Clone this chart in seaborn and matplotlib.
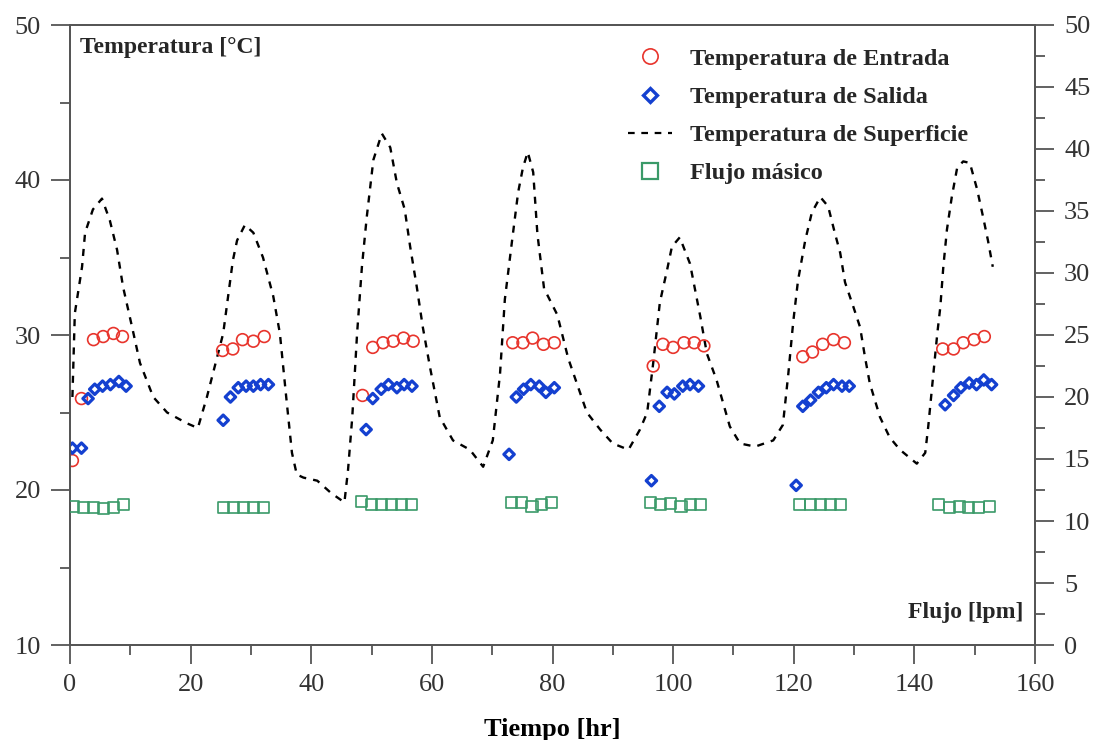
import matplotlib
matplotlib.use("Agg")
import matplotlib.pyplot as plt
import seaborn as sns
from matplotlib.lines import Line2D
from matplotlib.ticker import MultipleLocator

# ---------------- data ----------------
surf_time = [0.4, 0.8, 2.0, 2.5, 3.8, 5.3, 6.6, 7.8, 8.8, 10.3, 11.6, 13.8, 16.1, 19.4, 21.2,
             22.7, 25.4, 27.0, 27.7, 29.0, 30.4, 32.0, 33.7, 34.8, 35.9, 36.8, 37.6, 38.7,
             41.0, 43.3, 45.5, 46.1, 46.8, 47.6, 48.4, 49.2, 50.3, 51.7, 53.1, 54.2, 55.5,
             56.4, 57.5, 58.5, 59.7, 61.3, 63.5, 66.3, 68.5, 70.1, 71.3, 72.1, 73.3, 74.3,
             75.1, 75.9, 76.8, 77.5, 78.6, 80.8, 82.6, 85.7, 87.9, 90.0, 92.6, 94.5, 95.7,
             96.7, 97.8, 99.0, 99.8, 101.1, 102.8, 104.5, 105.6, 107.2, 109.4, 111.1, 113.6,
             116.6, 118.2, 119.1, 119.9, 120.7, 121.9, 123.0, 124.4, 125.7, 126.8, 127.7,
             128.5, 129.9, 131.0, 131.8, 132.6, 134.3, 135.9, 137.6, 140.4, 141.8, 142.3,
             142.9, 143.8, 144.3, 144.8, 145.4, 146.2, 147.1, 148.1, 149.2, 150.4, 151.4,
             152.2, 153.0]
surf_temp = [26.0, 31.4, 34.4, 36.6, 38.1, 38.8, 37.4, 35.5, 33.1, 30.5, 28.2, 26.0, 25.0, 24.3, 24.0,
             26.0, 30.1, 34.8, 36.1, 37.1, 36.6, 35.0, 32.5, 30.1, 25.8, 22.4, 21.0, 20.8,
             20.6, 19.8, 19.2, 21.3, 24.7, 30.1, 34.4, 37.6, 41.3, 43.0, 42.1, 39.8, 38.1,
             35.7, 33.1, 30.5, 27.9, 24.7, 23.2, 22.6, 21.5, 23.2, 27.5, 32.3, 36.1, 39.2,
             40.8, 41.8, 40.5, 36.5, 33.0, 31.3, 28.5, 25.0, 23.9, 23.0, 22.6, 23.9, 25.0,
             28.2, 32.1, 34.2, 35.7, 36.3, 34.6, 31.2, 28.8, 27.1, 24.1, 23.0, 22.8,
             23.2, 24.2, 27.5, 30.8, 33.5, 36.1, 37.9, 38.9, 38.3, 36.6, 35.3,
             33.4, 31.8, 30.5, 28.6, 26.9, 24.7, 23.4, 22.6, 21.7, 22.4, 24.1,
             26.5, 30.1, 31.8, 34.4, 36.8, 38.9, 40.8, 41.2, 41.1, 39.4, 37.6,
             36.1, 34.4]

inlet_time = [0.4, 1.9, 3.9, 5.5, 7.2, 8.7,
              25.3, 27.0, 28.6, 30.4, 32.2,
              48.5, 50.2, 51.9, 53.6, 55.3, 56.9,
              73.4, 75.1, 76.7, 78.5, 80.3,
              96.7, 98.3, 100.0, 101.8, 103.5, 105.1,
              121.5, 123.1, 124.8, 126.6, 128.4,
              144.7, 146.5, 148.1, 149.9, 151.6]
inlet_temp = [21.9, 25.9, 29.7, 29.9, 30.1, 29.9,
              29.0, 29.1, 29.7, 29.6, 29.9,
              26.1, 29.2, 29.5, 29.6, 29.8, 29.6,
              29.5, 29.5, 29.8, 29.4, 29.5,
              28.0, 29.4, 29.2, 29.5, 29.5, 29.3,
              28.6, 28.9, 29.4, 29.7, 29.5,
              29.1, 29.1, 29.5, 29.7, 29.9]

outlet_time = [0.4, 1.9, 3.0, 4.1, 5.4, 6.7, 8.1, 9.3,
               25.4, 26.6, 27.9, 29.2, 30.4, 31.6, 32.9,
               49.1, 50.2, 51.6, 52.8, 54.2, 55.4, 56.7,
               72.8, 74.0, 75.2, 76.4, 77.8, 78.9, 80.3,
               96.4, 97.7, 99.0, 100.2, 101.6, 102.8, 104.2,
               120.4, 121.5, 122.8, 124.1, 125.4, 126.6, 128.0, 129.2,
               145.1, 146.5, 147.7, 149.1, 150.3, 151.5, 152.8]
outlet_temp = [22.7, 22.7, 25.9, 26.5, 26.7, 26.8, 27.0, 26.7,
               24.5, 26.0, 26.6, 26.7, 26.7, 26.8, 26.8,
               23.9, 25.9, 26.5, 26.8, 26.6, 26.8, 26.7,
               22.3, 26.0, 26.5, 26.8, 26.7, 26.3, 26.6,
               20.6, 25.4, 26.3, 26.2, 26.7, 26.8, 26.7,
               20.3, 25.4, 25.8, 26.3, 26.6, 26.8, 26.7, 26.7,
               25.5, 26.1, 26.6, 26.9, 26.8, 27.1, 26.8]

flow_time = [0.5, 2.2, 3.9, 5.5, 7.2, 8.8,
             25.4, 27.1, 28.7, 30.4, 32.1,
             48.4, 50.0, 51.7, 53.3, 55.0, 56.6,
             73.2, 74.9, 76.6, 78.2, 79.9,
             96.2, 97.9, 99.6, 101.3, 102.9, 104.6,
             121.0, 122.8, 124.5, 126.1, 127.8,
             144.0, 145.8, 147.5, 149.0, 150.6, 152.4]
flow_lpm = [11.2, 11.1, 11.1, 11.0, 11.1, 11.3,
            11.1, 11.1, 11.1, 11.1, 11.1,
            11.6, 11.3, 11.3, 11.3, 11.3, 11.3,
            11.5, 11.5, 11.2, 11.3, 11.5,
            11.5, 11.3, 11.4, 11.2, 11.3, 11.3,
            11.3, 11.3, 11.3, 11.3, 11.3,
            11.3, 11.1, 11.2, 11.1, 11.1, 11.2]

labels = ["Temperatura de Entrada", "Temperatura de Salida",
          "Temperatura de Superficie", "Flujo másico"]

RED = "#e8342c"
BLUE = "#1440d0"
GREEN = "#3a9a68"
AXC = "#555555"
TXC = "#333333"

# ---------------- style ----------------
sns.set_style("ticks")
plt.rcParams["font.family"] = ["Liberation Serif", "DejaVu Serif"]

fig = plt.figure(figsize=(10.99, 7.40), dpi=100)
ax = fig.add_axes([70 / 1099, 1 - 645 / 740, 965 / 1099, 620 / 740])
ax2 = ax.twinx()

sns.lineplot(x=surf_time, y=surf_temp, ax=ax, color="black", lw=1.7,
             linestyle=(0, (3, 3)), sort=False, estimator=None)
sns.scatterplot(x=inlet_time, y=inlet_temp, ax=ax, marker="o", s=72,
                color=RED, facecolor="none", edgecolor=RED, linewidth=1.2, zorder=3)
sns.scatterplot(x=outlet_time, y=outlet_temp, ax=ax, marker="D", s=28,
                color=BLUE, facecolor="none", edgecolor=BLUE, linewidth=2.3, zorder=3)
sns.scatterplot(x=flow_time, y=flow_lpm, ax=ax2, marker="s", s=64,
                color=GREEN, facecolor="none", edgecolor=GREEN, linewidth=1.2, zorder=3)

ax.set_xlim(0, 160)
ax.set_ylim(10, 50)
ax2.set_ylim(0, 50)

ax.xaxis.set_major_locator(MultipleLocator(20))
ax.xaxis.set_minor_locator(MultipleLocator(10))
ax.yaxis.set_major_locator(MultipleLocator(10))
ax.yaxis.set_minor_locator(MultipleLocator(5))
ax2.yaxis.set_major_locator(MultipleLocator(5))
ax2.yaxis.set_minor_locator(MultipleLocator(2.5))

for a in (ax, ax2):
    for sp in a.spines.values():
        sp.set_color(AXC)
        sp.set_linewidth(1.3)
        sp.set_visible(True)
    a.tick_params(which="major", direction="out", length=14, width=1.3, color=AXC,
                  labelsize=19, labelcolor=TXC, pad=7)
    a.tick_params(which="minor", direction="out", length=7, width=1.3, color=AXC)

ax.set_xlabel("Tiempo [hr]", fontsize=19, fontweight="bold", color="black", labelpad=16)
ax.set_ylabel("")
ax2.set_ylabel("")

ax.text(0.0104, 0.963, "Temperatura [°C]", transform=ax.transAxes, fontsize=17,
        fontweight="bold", ha="left", va="center")
ax2.text(0.9876, 0.053, "Flujo [lpm]", transform=ax2.transAxes, fontsize=17,
         fontweight="bold", ha="right", va="center")

handles = [
    Line2D([], [], marker="o", ls="none", mfc="none", mec=RED, mew=1.2, ms=11),
    Line2D([], [], marker="D", ls="none", mfc="none", mec=BLUE, mew=2.4, ms=7),
    Line2D([], [], color="black", lw=1.6, ls=(0, (3, 3))),
    Line2D([], [], marker="s", ls="none", mfc="none", mec=GREEN, mew=1.6, ms=12),
]
leg = ax2.legend(handles, labels, loc="upper left", bbox_to_anchor=(0.578, 0.963),
                 frameon=False, borderpad=0, borderaxespad=0, handlelength=1.8,
                 handletextpad=0.75, labelspacing=0.66,
                 prop={"size": 17.5, "weight": "bold"})

fig.savefig("out.png", dpi=100)
